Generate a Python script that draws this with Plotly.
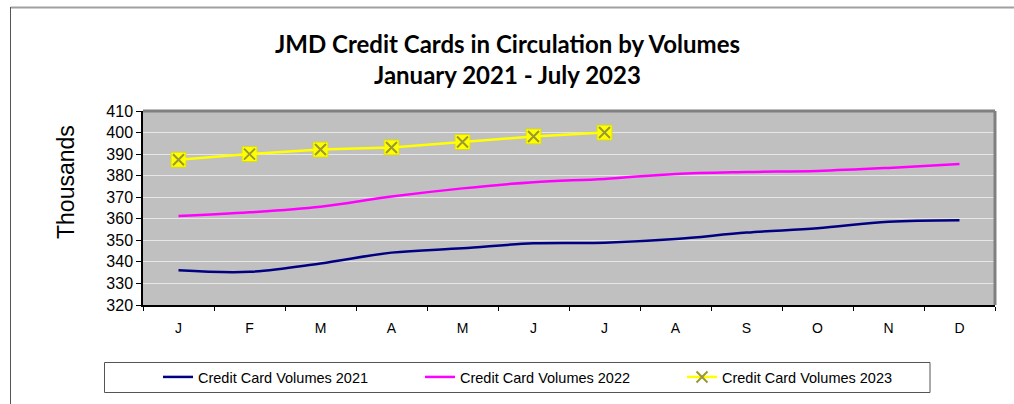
import plotly.graph_objects as go

# Monthly credit card volumes (thousands of cards)
months = ["J", "F", "M", "A", "M", "J", "J", "A", "S", "O", "N", "D"]
vol_2021 = [336.1, 335.4, 339.3, 344.3, 346.3, 348.6, 348.9, 350.6, 353.6, 355.6, 358.6, 359.3]
vol_2022 = [361.3, 363.0, 365.6, 370.3, 374.1, 377.0, 378.5, 380.8, 381.7, 382.2, 383.6, 385.4]
vol_2023 = [387.4, 390.0, 392.1, 393.1, 395.6, 398.2, 400.0]

W, H = 1014, 404
L, R, T, B = 143, 995, 111, 305  # plot area in pixels

def px_x(p):
    return (p - L) / (R - L)

def px_y(p):
    return (B - p) / (B - T)

x_all = list(range(len(months)))

fig = go.Figure()

fig.add_trace(go.Scatter(
    x=x_all, y=vol_2021, mode="lines", name="Credit Card Volumes 2021",
    line=dict(color="#000080", width=2.5, shape="spline", smoothing=1.0),
))
fig.add_trace(go.Scatter(
    x=x_all, y=vol_2022, mode="lines", name="Credit Card Volumes 2022",
    line=dict(color="#FF00FF", width=2.5, shape="spline", smoothing=1.0),
))
# yellow square backing behind each 2023 marker
fig.add_trace(go.Scatter(
    x=x_all[:len(vol_2023)], y=vol_2023, mode="markers", showlegend=False,
    marker=dict(symbol="square", size=15, color="#FFFF00",
                line=dict(color="#D8D820", width=1)),
    hoverinfo="skip",
))
fig.add_trace(go.Scatter(
    x=x_all[:len(vol_2023)], y=vol_2023, mode="lines+markers",
    name="Credit Card Volumes 2023",
    line=dict(color="#FFFF00", width=2.5),
    marker=dict(symbol="x-thin", size=11, color="#999933",
                line=dict(color="#999933", width=2)),
))

fig.update_layout(
    width=W, height=H,
    margin=dict(l=L, r=W - R, t=T, b=H - B),
    paper_bgcolor="white",
    plot_bgcolor="#C0C0C0",
    font=dict(family="Arial, Liberation Sans, sans-serif", color="black"),
    showlegend=True,
    legend=dict(
        orientation="h", xref="container", yref="container",
        x=158 / W, y=1 - 377 / H, xanchor="left", yanchor="middle",
        entrywidth=217, entrywidthmode="pixels",
        font=dict(size=14.5, family="Arial, Liberation Sans, sans-serif"),
        bgcolor="rgba(0,0,0,0)", borderwidth=0, traceorder="normal",
    ),
)

fig.update_xaxes(
    range=[-0.5, 11.5], tickmode="array", tickvals=x_all, ticktext=months,
    ticks="outside", ticklen=9, tickcolor="rgba(0,0,0,0)",
    tickfont=dict(size=14), showgrid=False, zeroline=False,
    showline=True, linecolor="black", linewidth=1.5,
    minor=dict(tickmode="array", tickvals=[i - 0.5 for i in range(13)],
               ticks="outside", ticklen=4, tickcolor="black", showgrid=False),
)
fig.update_yaxes(
    range=[320, 410], dtick=10, tick0=320,
    ticks="outside", ticklen=5, tickcolor="black", tickwidth=1,
    tickfont=dict(size=16), showgrid=True, gridcolor="#E6E6E6", gridwidth=1,
    zeroline=False, showline=True, linecolor="black", linewidth=1.5,
)

shapes = [
    # top and right edges of the plot frame
    dict(type="line", xref="paper", yref="paper", x0=0, x1=1, y0=1, y1=1,
         line=dict(color="#808080", width=3)),
    dict(type="line", xref="paper", yref="paper", x0=1, x1=1, y0=0, y1=1,
         line=dict(color="#808080", width=3)),
    # legend box
    dict(type="rect", xref="paper", yref="paper",
         x0=px_x(104.5), x1=px_x(930), y0=px_y(392.5), y1=px_y(362.5),
         line=dict(color="#555555", width=1), fillcolor="rgba(0,0,0,0)", layer="below"),
    # chart outer frame (top and left)
    dict(type="line", xref="paper", yref="paper",
         x0=px_x(10.5), x1=px_x(1014), y0=px_y(7.5), y1=px_y(7.5),
         line=dict(color="#A0A0A0", width=2)),
    dict(type="line", xref="paper", yref="paper",
         x0=px_x(10.5), x1=px_x(10.5), y0=px_y(7), y1=px_y(404),
         line=dict(color="#555555", width=1)),
]
fig.update_layout(shapes=shapes)

title_font = dict(family="Lato, Liberation Sans Narrow, Arial", size=24, color="black")
fig.add_annotation(text="<b>JMD Credit Cards in Circulation by Volumes</b>",
                   xref="paper", yref="paper", x=px_x(507), y=px_y(44),
                   showarrow=False, font=title_font, xanchor="center", yanchor="middle")
fig.add_annotation(text="<b>January 2021 - July 2023</b>",
                   xref="paper", yref="paper", x=px_x(507), y=px_y(74),
                   showarrow=False, font=title_font, xanchor="center", yanchor="middle")
fig.add_annotation(text="Thousands", textangle=-90,
                   xref="paper", yref="paper", x=px_x(66), y=px_y(182),
                   showarrow=False, font=dict(size=23, family="Arial, Liberation Sans"),
                   xanchor="center", yanchor="middle")

fig.write_html("out.html")
